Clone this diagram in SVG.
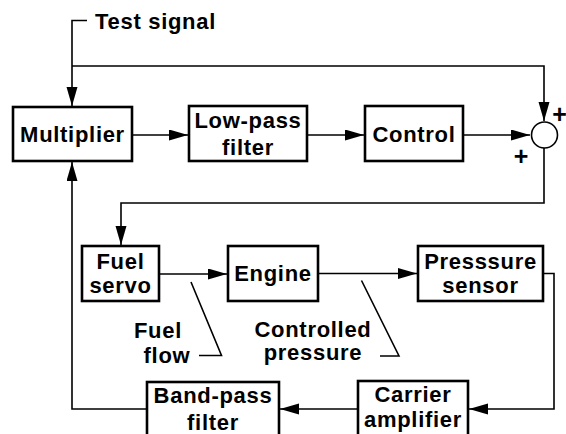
<svg xmlns="http://www.w3.org/2000/svg" width="566" height="434" viewBox="0 0 566 434">
<defs>
<style>
.box{fill:#fff;stroke:#000;stroke-width:2.6}
.ln{fill:none;stroke:#000;stroke-width:1.6}
.t{font-family:"Liberation Sans",Arial,sans-serif;font-weight:bold;font-size:22px;letter-spacing:0.7px;fill:#000;text-anchor:middle}
.l{text-anchor:start}
.p{font-size:25px;letter-spacing:0}
</style>
<marker id="ah" markerUnits="userSpaceOnUse" markerWidth="20" markerHeight="12" refX="19" refY="5.5" orient="auto">
<path d="M0,0 L19,5.5 L0,11 z" fill="#000"/>
</marker>
</defs>
<g id="connectors">
<path class="ln" d="M87,20.5 H72 V106" marker-end="url(#ah)"/>
<path class="ln" d="M72,66 H544 V121" marker-end="url(#ah)"/>
<path class="ln" d="M132,135 H188" marker-end="url(#ah)"/>
<path class="ln" d="M307,135 H364" marker-end="url(#ah)"/>
<path class="ln" d="M463,135 H530" marker-end="url(#ah)"/>
<path class="ln" d="M544,148 V203 H121 V245" marker-end="url(#ah)"/>
<path class="ln" d="M159,274 H227" marker-end="url(#ah)"/>
<path class="ln" d="M318,273.5 H417" marker-end="url(#ah)"/>
<path class="ln" d="M543,273.5 H554 V409 H469" marker-end="url(#ah)"/>
<path class="ln" d="M358,409 H280" marker-end="url(#ah)"/>
<path class="ln" d="M147,409 H72 V162" marker-end="url(#ah)"/>
<path class="ln" d="M191,282 L221.5,355.5 H199"/>
<path class="ln" d="M361.5,280.5 L399,356 H380"/>
</g>
<text class="t l" x="95" y="29">Test signal</text>
<g id="multiplier">
<rect class="box" x="13" y="107" width="119" height="54"/>
<text class="t" x="72.5" y="142">Multiplier</text>
</g>
<g id="lowpass">
<rect class="box" x="189" y="106" width="118" height="55"/>
<text class="t" x="248" y="128">Low-pass</text>
<text class="t" x="248" y="155">filter</text>
</g>
<g id="control">
<rect class="box" x="365" y="106" width="98" height="55"/>
<text class="t" x="414" y="142">Control</text>
</g>
<g id="sum">
<circle cx="544.5" cy="135" r="13" fill="#fff" stroke="#000" stroke-width="1.6"/>
<text class="t p" x="559.5" y="122.5">+</text>
<text class="t p" x="521" y="165">+</text>
</g>
<g id="fuelservo">
<rect class="box" x="82" y="246" width="77" height="55"/>
<text class="t" x="120.5" y="269">Fuel</text>
<text class="t" x="120.5" y="293">servo</text>
</g>
<g id="engine">
<rect class="box" x="228" y="246" width="90" height="55"/>
<text class="t" x="273" y="281">Engine</text>
</g>
<g id="pressuresensor">
<rect class="box" x="418" y="246" width="125" height="55"/>
<text class="t" x="480.5" y="269">Presssure</text>
<text class="t" x="480.5" y="293">sensor</text>
</g>
<g id="fuelflow">
<text class="t" x="158" y="337.5">Fuel</text>
<text class="t" x="167" y="363">flow</text>
</g>
<g id="controlledpressure">
<text class="t" x="313" y="337">Controlled</text>
<text class="t" x="313" y="360">pressure</text>
</g>
<g id="carrier">
<rect class="box" x="358" y="381" width="110" height="70"/>
<text class="t" x="413" y="402">Carrier</text>
<text class="t" x="413" y="427">amplifier</text>
</g>
<g id="bandpass">
<rect class="box" x="147" y="382" width="132" height="70"/>
<text class="t" x="213" y="403">Band-pass</text>
<text class="t" x="213" y="430">filter</text>
</g>
</svg>
